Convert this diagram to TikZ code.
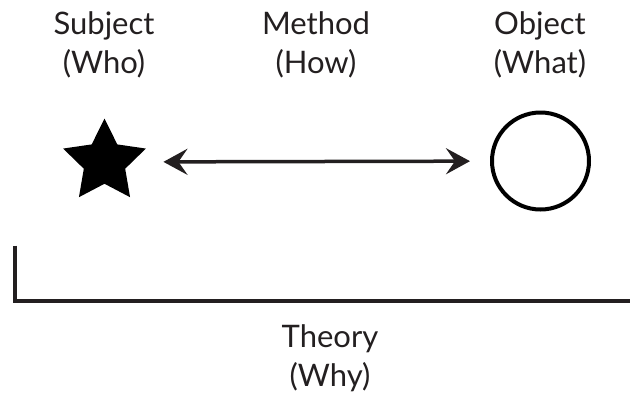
\documentclass[tikz,border=0pt]{standalone}
\usepackage{fontspec}
\setmainfont{Lato}
\usetikzlibrary{shapes.geometric,arrows.meta}
\definecolor{ink}{HTML}{231F20}
\tikzset{mytip/.tip={Stealth[length=24pt,width=26pt,inset=9pt]}}
\begin{document}
\begin{tikzpicture}[x=1pt,y=-1pt,
  lbl/.style={align=center,inner sep=0pt,text=ink,font=\fontsize{31}{39}\selectfont},
  thick line/.style={line width=4pt,draw=ink}]
\useasboundingbox (0,0) rectangle (630,400);
\node[lbl] (subj) at (104,45) {Subject\\(Who)};
\node[lbl] (meth) at (316,45) {Method\\(How)};
\node[lbl] (obj) at (540,45) {Object\\(What)};
\node[star,star points=5,star point ratio=2.0,fill=black,inner sep=0pt,minimum size=87pt] (star) at (104.5,162) {};
\node[circle,line width=4pt,draw=black,inner sep=0pt,minimum size=97pt] (circ) at (540.5,161) {};
\draw[line width=3.5pt,draw=ink,mytip-mytip,shorten <=31pt,shorten >=20pt] (star) -- (circ);
\coordinate (b1) at (14.7,245.5);
\coordinate (b2) at (14.7,301);
\coordinate (b3) at (634,301);
\draw[thick line] (b1) -- (b2) -- (b3);
\node[lbl] (theo) at (330,358) {Theory\\(Why)};
\end{tikzpicture}
\end{document}
